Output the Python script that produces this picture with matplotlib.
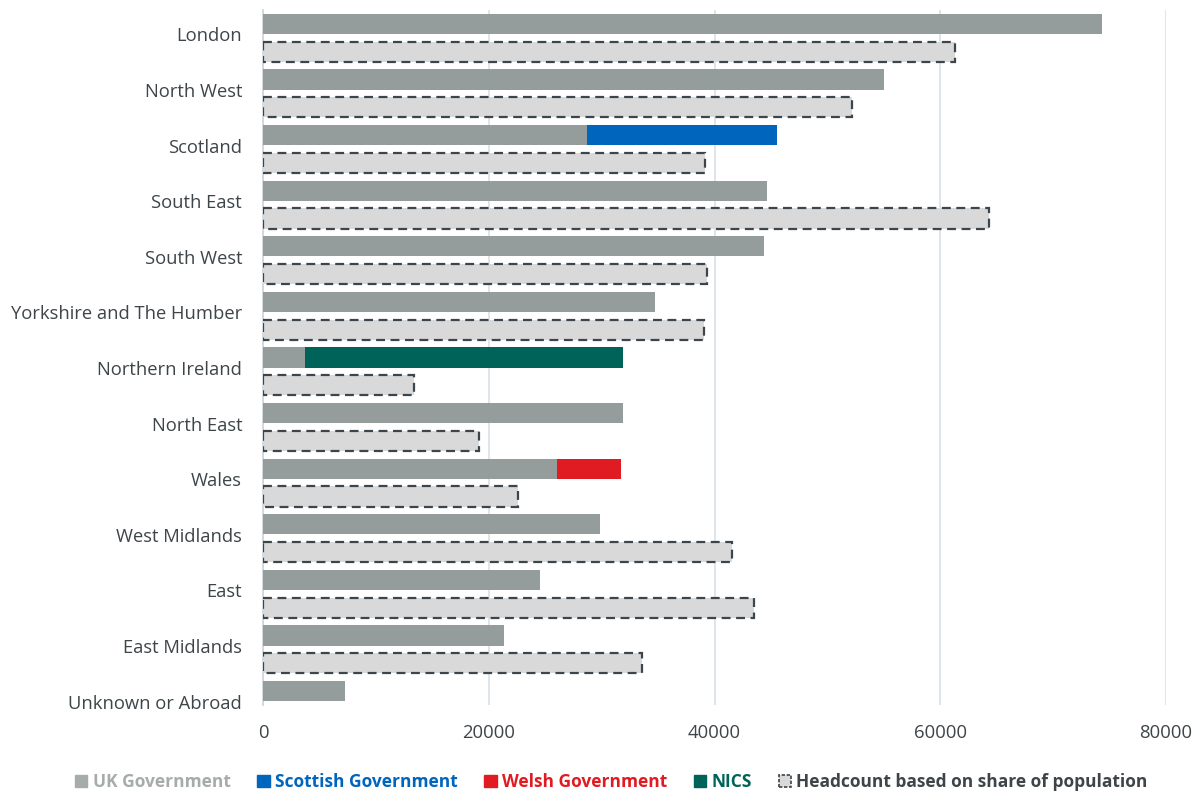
import numpy as np
import matplotlib.pyplot as plt
from matplotlib.patches import Patch

regions = ["London", "North West", "Scotland", "South East", "South West",
           "Yorkshire and The Humber", "Northern Ireland", "North East", "Wales",
           "West Midlands", "East", "East Midlands", "Unknown or Abroad"]
uk_gov = [74300, 55000, 28700, 44600, 44400, 34700, 3700, 31900, 26050, 29850, 24550, 21350, 7300]
scot_gov = [0, 0, 16850, 0, 0, 0, 0, 0, 0, 0, 0, 0, 0]
welsh_gov = [0, 0, 0, 0, 0, 0, 0, 0, 5650, 0, 0, 0, 0]
nics = [0, 0, 0, 0, 0, 0, 28200, 0, 0, 0, 0, 0, 0]
pop_share = [61300, 52200, 39150, 64300, 39350, 39050, 13400, 19150, 22600, 41550, 43500, 33600, 0]
xticks = [0, 20000, 40000, 60000, 80000]

grey = "#949c9c"
blue = "#0065bd"
red = "#e01b22"
green = "#00635a"
pop_fill = "#d9d9d9"
dash_col = "#3c444c"
text_col = "#3d4548"

plt.rcParams['font.family'] = ['Open Sans', 'DejaVu Sans']

fig = plt.figure(figsize=(12.01, 7.94), dpi=100)
ax = fig.add_axes([0.219, 0.1121, 0.752, 0.8753])

y = np.arange(len(regions))
h = 0.36
uk = np.array(uk_gov)
ax.barh(y - 0.25, uk, height=h, color=grey, zorder=3)
ax.barh(y - 0.25, scot_gov, left=uk, height=h, color=blue, zorder=3)
ax.barh(y - 0.25, welsh_gov, left=uk, height=h, color=red, zorder=3)
ax.barh(y - 0.25, nics, left=uk, height=h, color=green, zorder=3)
ax.barh(y + 0.25, pop_share, height=h, color=pop_fill, edgecolor=dash_col,
        linewidth=1.6, linestyle=(0, (4, 2.5)), zorder=3)

ax.set_ylim(12, -0.5)
ax.set_xlim(0, 80000)
ax.set_yticks(y - 0.06)
ax.set_yticklabels(regions, fontsize=13.2, color=text_col)
ax.set_xticks(xticks)
ax.set_xticklabels([str(v) for v in xticks], fontsize=13.3, color=text_col)
ax.tick_params(length=0)
ax.tick_params(axis='x', pad=14)
ax.tick_params(axis='y', pad=15)

ax.grid(axis='x', color="#dce3e6", linewidth=1.3, zorder=0)
for s in ["top", "right", "bottom"]:
    ax.spines[s].set_visible(False)
ax.spines["left"].set_color("#d0d7da")
ax.spines["left"].set_linewidth(1.3)

handles = [Patch(color="#a6abab"), Patch(color=blue), Patch(color=red), Patch(color=green),
           Patch(facecolor=pop_fill, edgecolor=dash_col, linestyle=(0, (2, 1)), linewidth=1.2)]
labels = ["UK Government", "Scottish Government", "Welsh Government", "NICS",
          "Headcount based on share of population"]
fig.legend(handles, labels, loc="center", bbox_to_anchor=(0.509, 0.015), ncol=5,
           frameon=False, handlelength=0.7, handleheight=0.7, handletextpad=0.3,
           columnspacing=1.55, labelcolor=["#a6abab", blue, red, green, text_col],
           prop={'weight': 'bold', 'size': 12.5})

fig.savefig("out.png", dpi=100)
